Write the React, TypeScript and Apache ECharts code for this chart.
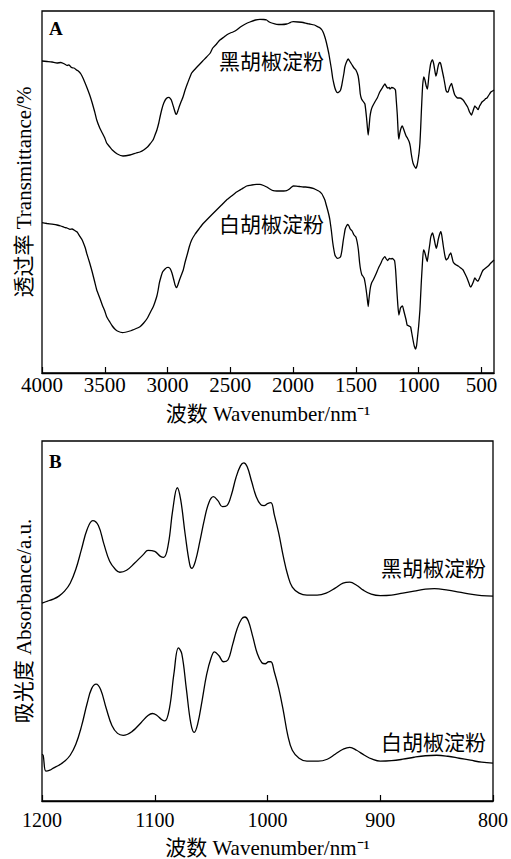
import React, { useEffect, useRef } from "react";
import * as echarts from "echarts";

// Panel A: FT-IR (wavenumber, transmittance in arbitrary units)
const irTicks = [500, 1000, 1500, 2000, 2500, 3000, 3500, 4000];
const irBlack: number[][] = [
  [4000,312],[3960,311.5],[3920,311],[3880,310],[3850,310.5],[3820,309],[3800,307.5],[3785,308],[3765,305.5],[3745,305],[3725,303],[3711,302],[3690,299],[3670,294],[3644,286],[3620,278],[3600,270],[3580,261],[3564,253],[3540,245],[3520,240],[3500,235],[3485,230],[3460,226],[3440,223],[3400,219],[3355,217],[3300,218],[3250,220],[3220,221],[3190,223],[3160,226],[3140,229],[3116,233],[3100,238],[3085,243],[3070,250],[3060,256],[3045,264],[3030,270],[3010,274.5],[2989,275.7],[2970,273],[2950,265],[2935,259],[2928,258.7],[2918,262],[2905,267],[2890,272],[2877,276],[2860,283],[2840,290],[2808,300],[2780,304],[2750,308],[2720,312],[2689,316],[2660,320],[2640,325],[2610,329],[2583,333],[2550,336],[2530,338],[2500,340],[2479,341],[2450,343],[2420,346],[2380,349],[2344,351],[2300,353],[2264,353.7],[2235,353.5],[2211,353],[2190,351],[2170,350],[2131,348.7],[2090,348.5],[2052,349],[2030,350],[2015,351],[1999,351.3],[1960,351],[1920,350.5],[1890,349.5],[1866,349],[1830,348],[1800,346],[1785,345],[1770,343],[1758,340],[1747,336],[1736,331],[1725,325],[1715,319],[1707,313],[1695,304],[1685,295],[1675,289],[1667,285],[1658,282],[1649,280.3],[1635,281],[1622,283],[1612,288],[1605,293],[1595,300],[1588,306],[1575,311],[1561,314],[1550,312],[1540,310],[1530,308],[1515,305],[1500,303],[1482,297],[1472,288],[1465,279],[1455,274],[1445,272],[1428,269],[1415,255],[1408,245],[1402,238],[1395,246],[1388,256],[1380,262],[1370,266],[1349,271],[1330,275],[1310,281],[1290,285],[1269,289],[1255,286],[1245,285],[1235,285.5],[1229,284],[1215,285.5],[1200,285],[1185,283],[1178,272],[1170,258],[1163,240],[1158,234],[1150,240],[1140,245],[1130,247],[1120,244],[1112,241],[1100,237],[1090,235],[1075,231],[1066,226],[1060,220],[1052,214],[1045,210],[1035,207],[1022,204.7],[1012,208],[1005,213],[997,220],[990,230],[984,245],[978,263],[972,279],[968,288],[960,296],[950,293],[940,287],[930,284],[924,290],[918,298],[910,305],[905,309],[897,312],[889,313],[880,309],[872,303],[863,297],[855,300],[848,305],[840,309],[832,310.5],[825,309.5],[820,307],[810,301],[800,295],[790,288],[783,283],[775,281],[765,281],[756,285],[750,287],[738,289.5],[730,286],[720,281],[712,278],[700,276],[690,275],[670,275],[646,273],[630,270],[610,266],[595,261],[585,259],[578,258],[570,261],[562,264],[553,267],[546,266],[540,265.5],[532,264],[526,263.5],[515,267],[505,269],[496,271],[486,272],[476,273],[466,274.5],[456,275],[446,277],[435,279],[425,281],[412,282],[400,283]
];
const irWhite: number[][] = [
  [4000,150.3],[3960,149.5],[3920,148.8],[3880,148],[3850,147],[3820,145.5],[3800,145],[3777,143.7],[3760,144],[3745,143],[3720,141],[3697,136.3],[3680,133],[3670,130],[3655,125],[3644,119.7],[3620,110],[3600,101],[3580,91],[3564,83],[3540,75],[3520,68],[3500,62],[3485,56.3],[3460,51],[3440,47],[3420,44],[3400,42],[3358,40.3],[3300,42],[3250,44.5],[3220,46.3],[3190,50],[3160,55],[3140,60],[3114,66.3],[3100,71],[3085,77],[3075,83],[3066,89.7],[3055,95],[3040,101],[3020,104],[3005,105.5],[2994,105.7],[2980,104.5],[2965,100],[2950,93],[2940,88],[2928,85.3],[2918,88],[2905,93],[2890,98],[2875,103],[2860,111],[2840,120],[2825,127],[2808,133],[2780,139],[2750,144],[2720,149],[2689,153],[2650,158],[2610,163],[2570,168],[2530,173],[2490,177],[2450,181],[2410,184],[2370,187],[2330,188],[2291,188.7],[2264,188.7],[2235,187.5],[2210,186],[2185,184],[2158,182.3],[2130,182],[2100,182],[2075,182],[2052,182.3],[2035,183.5],[2020,185],[1999,187],[1975,186.8],[1950,186.5],[1920,186],[1900,186],[1870,185.5],[1840,184.7],[1820,183.5],[1800,182.3],[1785,181],[1770,179],[1758,176],[1747,173],[1736,168],[1725,163],[1715,158],[1707,153],[1695,142],[1685,131],[1675,123],[1667,118],[1658,116],[1649,114.7],[1635,115],[1622,116.3],[1612,122],[1600,133],[1592,139],[1585,144],[1575,147],[1566,148.5],[1555,147],[1545,144],[1530,142],[1515,138],[1500,136],[1490,131],[1480,123],[1470,110],[1462,103],[1452,98],[1445,97],[1434,94.7],[1425,89],[1418,83],[1410,75],[1402,66.5],[1395,75],[1385,85],[1375,90],[1362,93],[1340,99],[1320,105],[1300,110],[1290,113],[1269,116.3],[1258,114],[1248,112.5],[1238,114],[1230,114.5],[1220,114],[1210,114.7],[1200,113.5],[1192,112.5],[1183,102],[1175,85],[1166,68],[1158,58],[1150,62],[1145,65],[1136,66.5],[1128,67],[1120,63],[1110,58],[1100,53],[1092,48],[1085,47.5],[1078,47],[1070,46.5],[1064,46],[1055,40],[1045,33],[1035,27],[1025,24],[1017,27],[1010,35],[1000,47],[990,63],[984,78],[978,93],[970,110],[962,123],[955,122],[950,120],[940,115],[932,111.3],[925,117],[918,123],[910,130],[905,135],[897,138.5],[889,140],[882,137],[875,133],[867,128],[860,124.7],[852,128],[845,133],[835,138],[828,140.5],[823,141.3],[815,137],[805,128],[795,120],[787,115],[780,113],[772,114],[765,115],[756,118],[750,119],[744,120],[735,116],[725,111],[712,109],[700,108],[685,107],[665,105],[646,103],[630,99],[615,95],[600,90],[592,87],[584,86],[575,88],[565,91],[553,95],[546,94],[540,93],[532,92],[526,92],[515,95],[505,98],[495,101],[486,103],[476,104],[466,105],[456,106],[446,107],[435,108.5],[425,110],[412,111.5],[400,113]
];

// Panel B: absorbance (arbitrary units)
const uvBlack: number[][] = [
  [1200,199],[1195,201],[1190,203],[1185,206],[1180,211],[1175,219],[1170,233],[1165,253],[1160,273],[1155,282],[1150,277],[1145,258],[1140,241],[1135,233],[1131,230],[1125,232],[1118,239],[1110,248],[1106,252],[1100,251],[1095,246],[1092,245],[1088,258],[1084,293],[1080,315],[1077,303],[1073,268],[1069,238],[1067,234],[1064,241],[1060,261],[1056,283],[1052,300],[1048,306],[1044,302],[1040,296],[1036,297],[1032,308],[1028,325],[1024,337],[1021,340],[1018,336],[1014,321],[1010,306],[1006,298],[1003,297],[1000,299],[997,300],[994,288],[990,269],[986,246],[982,227],[978,215],[972,209],[965,207],[956,207],[948,209],[940,214],[933,219],[927,220],[921,217],[915,212],[908,208],[900,206.5],[890,207],[880,209],[870,211],[860,213],[852,213.5],[840,212],[830,210],[820,208],[810,206.5],[800,206]
];
const uvWhite: number[][] = [
  [1200,47],[1199,46],[1196.5,30],[1193,31],[1190,33],[1185,36],[1180,40],[1175,46],[1170,57],[1165,75],[1160,98],[1156,113],[1152,117.5],[1148,112],[1143,93],[1138,76],[1133,68],[1128,66],[1120,70],[1112,79],[1106,86],[1102,88],[1098,86],[1094,82],[1091,80.5],[1087,93],[1083,128],[1079,154],[1076,148],[1072,113],[1068,78],[1065,69],[1062,77],[1058,101],[1054,127],[1050,144],[1047,150],[1043,146],[1039,140],[1035,142],[1031,157],[1027,173],[1023,183],[1020,185],[1017,181],[1013,165],[1009,148],[1005,139],[1002,138],[999,140],[997,140],[994,130],[990,113],[986,91],[982,66],[978,51],[972,43],[965,40],[955,40],[947,42],[940,47],[933,52],[927,54],[921,51],[914,46],[907,42],[900,40],[890,40.5],[880,42],[870,44],[860,45.5],[850,46],[840,45],[830,43],[820,41],[810,39],[800,38]
];

const sampleLabels = ["黑胡椒淀粉", "白胡椒淀粉"];
const xName = "波数 Wavenumber/nm⁻¹";
const yNameA = "透过率 Transmittance/%";
const yNameB = "吸光度 Absorbance/a.u.";

const FONT = "Liberation Serif, Noto Sans CJK SC, serif";

export default function App() {
  const ref = useRef<HTMLDivElement>(null);
  useEffect(() => {
    if (!ref.current) return;
    const chart = echarts.init(ref.current, undefined, { renderer: "svg" });
    const lineStyle = { color: "#000", width: 1.3 };
    const txt = (text: string, x: number, y: number, size: number, bold = false) => ({
      type: "text",
      x,
      y,
      silent: true,
      style: {
        text,
        fill: "#000",
        font: `${bold ? "bold " : ""}${size}px ${FONT}`,
        verticalAlign: "middle",
        align: "left",
      },
    });
    const labelStyle = {
      fontSize: 21,
      fontFamily: FONT,
      color: "#000",
      formatter: (v: number) => String(v),
    };
    const xBase = {
      type: "value",
      inverse: true,
      name: xName,
      nameLocation: "middle",
      nameTextStyle: { fontSize: 21, fontFamily: FONT, color: "#000" },
      axisLine: { show: true, lineStyle: { color: "#000", width: 1.3 } },
      axisTick: { show: true, inside: true, length: 6, lineStyle: { color: "#000", width: 1.2 } },
      splitLine: { show: false },
    };
    const yBase = {
      type: "value",
      min: 0,
      max: 362,
      nameLocation: "middle",
      nameRotate: 90,
      nameGap: 8,
      nameTextStyle: { fontSize: 21, fontFamily: FONT, color: "#000" },
      axisLine: { show: false },
      axisTick: { show: false },
      axisLabel: { show: false },
      splitLine: { show: false },
    };
    chart.setOption({
      animation: false,
      backgroundColor: "#fff",
      textStyle: { fontFamily: FONT },
      grid: [
        { left: 42, top: 11, width: 452, height: 362, show: true, borderColor: "#000", borderWidth: 1.3, backgroundColor: "transparent" },
        { left: 42, top: 441, width: 452, height: 362, show: true, borderColor: "#000", borderWidth: 1.3, backgroundColor: "transparent" },
      ],
      xAxis: [
        {
          ...xBase,
          gridIndex: 0,
          min: 400,
          max: 4000,
          nameGap: 30,
          axisTick: { ...xBase.axisTick, customValues: irTicks },
          axisLabel: { ...labelStyle, margin: 1, customValues: irTicks },
        },
        {
          ...xBase,
          gridIndex: 1,
          min: 800,
          max: 1200,
          interval: 100,
          nameGap: 36,
          axisLabel: { ...labelStyle, fontSize: 20, margin: 9 },
        },
      ],
      yAxis: [
        { ...yBase, gridIndex: 0, name: yNameA },
        { ...yBase, gridIndex: 1, name: yNameB },
      ],
      series: [
        { type: "line", xAxisIndex: 0, yAxisIndex: 0, data: irBlack, showSymbol: false, symbol: "none", smooth: 0.15, lineStyle, silent: true },
        { type: "line", xAxisIndex: 0, yAxisIndex: 0, data: irWhite, showSymbol: false, symbol: "none", smooth: 0.15, lineStyle, silent: true },
        { type: "line", xAxisIndex: 1, yAxisIndex: 1, data: uvBlack, showSymbol: false, symbol: "none", smooth: 0.4, lineStyle, silent: true },
        { type: "line", xAxisIndex: 1, yAxisIndex: 1, data: uvWhite, showSymbol: false, symbol: "none", smooth: 0.4, lineStyle, silent: true },
      ],
      graphic: [
        txt("A", 49, 28, 19, true),
        txt(sampleLabels[0], 219, 62, 21),
        txt(sampleLabels[1], 219, 225, 21),
        txt("B", 49, 461, 19, true),
        txt(sampleLabels[0], 381, 569, 21),
        txt(sampleLabels[1], 381, 743, 21),
      ],
    });
    return () => chart.dispose();
  }, []);
  return (
    <div
      ref={ref}
      style={{ position: "fixed", left: 0, top: 0, width: 511, height: 859, background: "#fff" }}
    />
  );
}
